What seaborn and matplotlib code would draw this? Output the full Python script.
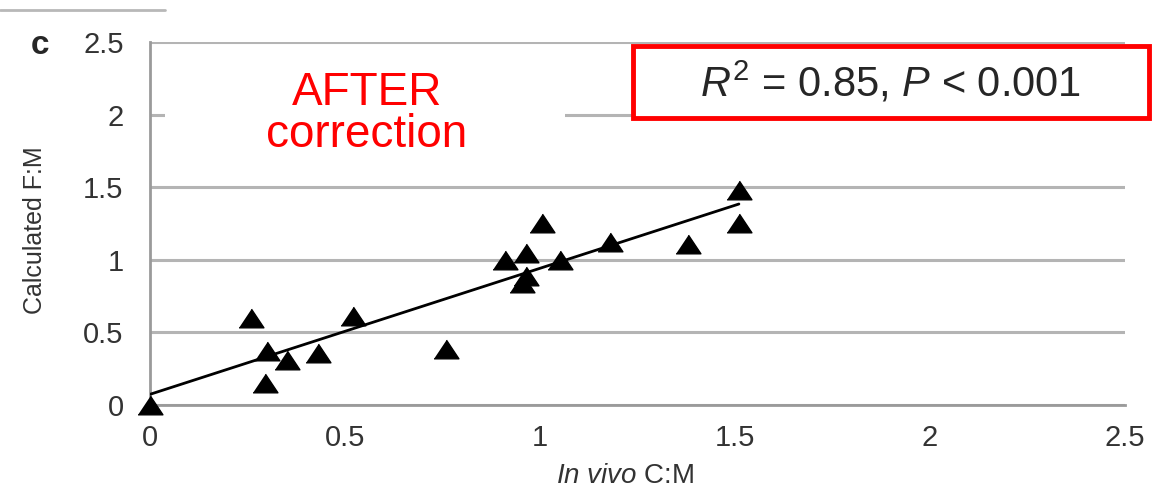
import numpy as np
import pandas as pd
import matplotlib
matplotlib.use("Agg")
import matplotlib.pyplot as plt
from matplotlib.patches import Rectangle
import seaborn as sns

# values
in_vivo = [0.0, 0.26, 0.30, 0.295, 0.35, 0.43, 0.52, 0.76, 0.91, 0.965,
           0.965, 0.955, 1.005, 1.05, 1.18, 1.38, 1.51, 1.51]
calculated = [0.0, 0.60, 0.37, 0.15, 0.31, 0.36, 0.61, 0.385, 1.00, 1.05,
              0.89, 0.84, 1.25, 1.00, 1.12, 1.11, 1.48, 1.25]
ticks = [0, 0.5, 1, 1.5, 2, 2.5]
tick_labels = ["0", "0.5", "1", "1.5", "2", "2.5"]

df = pd.DataFrame({"x": in_vivo, "y": calculated})

sns.set_style("white")
plt.rcParams["font.family"] = ["Liberation Sans", "DejaVu Sans"]
plt.rcParams["mathtext.fontset"] = "custom"
plt.rcParams["mathtext.rm"] = "Liberation Sans"
plt.rcParams["mathtext.it"] = "Liberation Sans:italic"

fig = plt.figure(figsize=(11.61, 4.93), dpi=100)
W, H = 1161, 493
ax = fig.add_axes([150 / W, 1 - 405 / H, 975 / W, 363 / H])

grid_col = "#b4b4b4"
ax.set_axisbelow(True)
ax.yaxis.grid(True, color=grid_col, lw=2.2)
ax.xaxis.grid(False)

# squat triangle like the original
tri = [(-1, -0.75), (1, -0.75), (0, 0.75)]
sns.regplot(data=df, x="x", y="y", ci=None, ax=ax, color="black", marker=tri,
            scatter_kws={"s": 320, "alpha": 1, "edgecolors": "black", "zorder": 4,
                         "clip_on": False},
            line_kws={"lw": 2.0, "zorder": 3})

ax.set_xlim(0, 2.5)
ax.set_ylim(0, 2.5)
ax.set_xticks(ticks)
ax.set_xticklabels(tick_labels)
ax.set_yticks(ticks)
ax.set_yticklabels(tick_labels)

for s in ["top", "right"]:
    ax.spines[s].set_visible(False)
for s in ["left", "bottom"]:
    ax.spines[s].set_color("#9a9a9a")
    ax.spines[s].set_linewidth(2.0)

ax.tick_params(axis="y", length=10, width=2.2, color=grid_col, pad=9,
               labelsize=21, labelcolor="#333333")
ax.tick_params(axis="x", length=6, width=1.5, color="#9a9a9a", pad=8,
               labelsize=21, labelcolor="#333333")

ax.set_xlabel("$\\it{In\\ vivo}$ C:M", fontsize=20, color="#333333")
ax.set_ylabel("Calculated F:M", fontsize=18, color="#333333")
ax.xaxis.set_label_coords(0.487, -0.16)
ax.yaxis.set_label_coords(-0.106, 0.482)

# panel letter
fig.text(40 / W, 1 - 45 / H, "c", fontsize=24, fontweight="bold", ha="center", va="center")
fig.add_artist(plt.Line2D([0, 165 / W], [1 - 10 / H, 1 - 10 / H], color="#b8b8b8", lw=2))

# white patch behind the red annotation
fig.add_artist(Rectangle((165 / W, 1 - 162 / H), 400 / W, 107 / H,
                         transform=fig.transFigure, facecolor="white", edgecolor="none", zorder=5))
fig.text(367 / W, 1 - 114 / H, "AFTER\ncorrection", fontsize=33, color="red",
         ha="center", va="center", linespacing=0.95, zorder=6)

# R^2 box
fig.add_artist(Rectangle((633 / W, 1 - 118 / H), 516 / W, 72 / H,
                         transform=fig.transFigure, facecolor="white", edgecolor="red",
                         lw=3.5, zorder=5))
fig.text(891 / W, 1 - 83 / H, "$\\it{R}^2$ = 0.85, $\\it{P}$ < 0.001", fontsize=30,
         ha="center", va="center", zorder=6)

fig.savefig("out.png", dpi=100)
